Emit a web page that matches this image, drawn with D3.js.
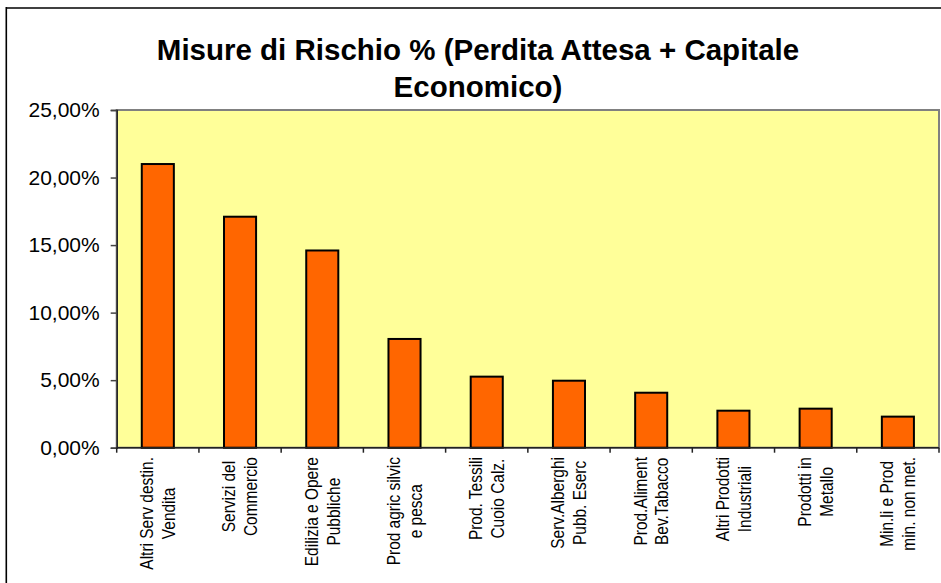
<!DOCTYPE html>
<html>
<head>
<meta charset="utf-8">
<script src="https://cdn.jsdelivr.net/npm/d3@7"></script>
<style>
  html, body { margin: 0; padding: 0; background: #ffffff; }
  svg { display: block; font-family: "Liberation Sans", Arial, sans-serif; }
</style>
</head>
<body>
<svg id="chart" width="941" height="583"></svg>
<script>
// Risk measure per sector, in percent (expected loss + economic capital)
const categories = [
  ["Altri Serv destin.", "Vendita"],
  ["Servizi del", "Commercio"],
  ["Edilizia e Opere", "Pubbliche"],
  ["Prod agric silvic", "e pesca"],
  ["Prod. Tessili", "Cuoio Calz."],
  ["Serv.Alberghi", "Pubb. Eserc"],
  ["Prod.Aliment", "Bev.Tabacco"],
  ["Altri Prodotti", "Industriali"],
  ["Prodotti in", "Metallo"],
  ["Min.li e Prod", "min. non met."]
];
const values = [21.0, 17.1, 14.6, 8.05, 5.26, 4.96, 4.07, 2.74, 2.89, 2.30];
const yTicks = [0, 5, 10, 15, 20, 25];
const titleLines = ["Misure di Rischio % (Perdita Attesa + Capitale", "Economico)"];

const svg = d3.select("#chart");
const W = 941, H = 583;
const plot = { left: 116.7, top: 110, right: 939, bottom: 447.7 };

// Outer chart frame (only top and left edges fall inside the view)
svg.append("line").attr("x1", 6).attr("x2", W).attr("y1", 8).attr("y2", 8)
  .attr("stroke", "#404040").attr("stroke-width", 2);
svg.append("line").attr("x1", 6.3).attr("x2", 6.3).attr("y1", 7).attr("y2", H)
  .attr("stroke", "#000").attr("stroke-width", 1.6);

// Title
svg.append("g").selectAll("text").data(titleLines).join("text")
  .attr("x", 478).attr("y", (d, i) => 60 + i * 37)
  .attr("text-anchor", "middle")
  .attr("font-size", 29.5).attr("font-weight", "bold").attr("fill", "#000")
  .text(d => d);

// Scales
const keys = categories.map((c, i) => i);
const pad = 0.61;
const x = d3.scaleBand().domain(keys).range([plot.left, plot.right])
  .paddingInner(pad).paddingOuter(pad / 2);
const xEdge = d3.scaleBand().domain(keys).range([plot.left, plot.right]).padding(0);
const y = d3.scaleLinear().domain([0, 25]).range([plot.bottom, plot.top]);

// Plot area
svg.append("rect")
  .attr("x", plot.left).attr("y", plot.top)
  .attr("width", plot.right - plot.left).attr("height", plot.bottom - plot.top)
  .attr("fill", "#FFFF99").attr("stroke", "#808080").attr("stroke-width", 2);

// Bars
svg.append("g").selectAll("rect").data(values).join("rect")
  .attr("x", (d, i) => x(i))
  .attr("y", d => y(d))
  .attr("width", x.bandwidth())
  .attr("height", d => y(0) - y(d))
  .attr("fill", "#FF6600").attr("stroke", "#000").attr("stroke-width", 2);

// Y axis
const yAxis = svg.append("g")
  .attr("transform", `translate(${plot.left},0)`)
  .call(d3.axisLeft(y).tickValues(yTicks).tickSize(6).tickPadding(11)
    .tickFormat(d => d.toFixed(2).replace(".", ",") + "%"));
yAxis.select(".domain").attr("stroke", "#222").attr("stroke-width", 1.5);
yAxis.selectAll(".tick line").attr("stroke", "#444").attr("stroke-width", 1.5);
yAxis.selectAll(".tick text").attr("font-size", 21).attr("fill", "#000")
  .attr("font-family", "\"Liberation Sans\", Arial, sans-serif");

// X axis line and category boundary ticks
const xAxis = svg.append("g");
xAxis.append("line")
  .attr("x1", plot.left).attr("x2", plot.right)
  .attr("y1", plot.bottom).attr("y2", plot.bottom)
  .attr("stroke", "#222").attr("stroke-width", 1.5);
const edges = keys.map(k => xEdge(k)).concat([plot.right]);
xAxis.selectAll("line.tick").data(edges).join("line")
  .attr("class", "tick")
  .attr("x1", d => d).attr("x2", d => d)
  .attr("y1", plot.bottom).attr("y2", plot.bottom + 5)
  .attr("stroke", "#222").attr("stroke-width", 1.5);

// Rotated two-line category labels, block ending just below the axis.
// Glyphs are slightly narrowed along the reading direction.
const labelTop = 457;
const lineGap = 22;
const squeeze = 0.86;
const lab = svg.append("g").selectAll("g").data(categories).join("g");
lab.each(function (lines, i) {
  const g = d3.select(this);
  const texts = g.selectAll("text").data(lines).join("text")
    .attr("text-anchor", "middle")
    .attr("font-size", 18).attr("fill", "#000")
    .attr("x", 0)
    .attr("y", (d, j) => (j - (lines.length - 1) / 2) * lineGap)
    .attr("dy", "0.35em")
    .text(d => d);
  let maxLen = 0;
  texts.each(function () { maxLen = Math.max(maxLen, this.getComputedTextLength()); });
  const cx = xEdge(i) + xEdge.bandwidth() / 2;
  g.attr("transform",
    `translate(${cx},${labelTop + maxLen * squeeze / 2}) rotate(-90) scale(${squeeze},1)`);
});
</script>
</body>
</html>
